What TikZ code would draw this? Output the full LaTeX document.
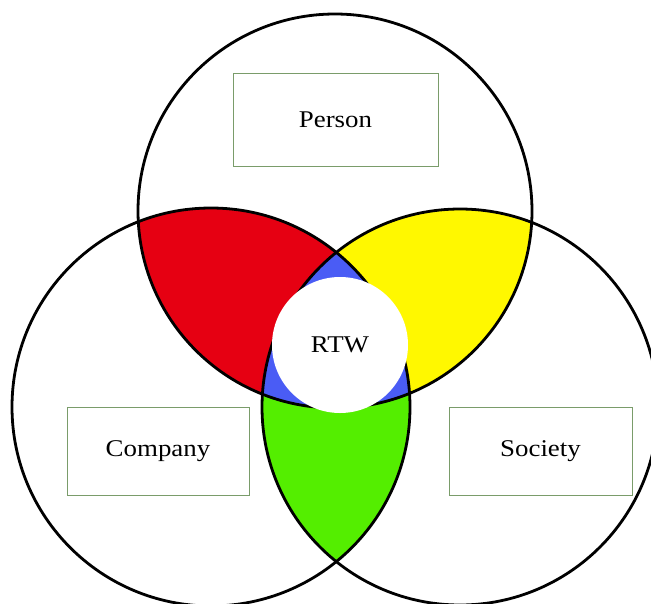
\documentclass[tikz,border=0pt]{standalone}
\usepackage{fontspec}
\setmainfont{Liberation Serif}[FakeStretch=1.12]
\definecolor{redfill}{RGB}{230,0,18}
\definecolor{yellowfill}{RGB}{255,248,0}
\definecolor{greenfill}{RGB}{84,238,0}
\definecolor{bluefill}{RGB}{74,92,245}
\definecolor{boxgreen}{RGB}{122,156,106}
\begin{document}
\begin{tikzpicture}[x=1pt,y=-1pt,
  ring/.style={draw=black,line width=2.8pt},
  labelbox/.style={draw=boxgreen,line width=1pt,inner sep=0pt,
    font=\fontsize{24}{28}\selectfont},
  hub/.style={circle,fill=white,inner sep=0pt,minimum size=136pt,
    font=\fontsize{24}{28}\selectfont}]
\useasboundingbox (0,0) rectangle (651,603);
\fill[white] (0,0) rectangle (651,603);

% circle centres
\coordinate (cT) at (335,211);
\coordinate (cL) at (211,407);
\coordinate (cR) at (460,407);
\def\circT{(cT) circle[radius=197pt]}
\def\circL{(cL) circle[radius=199pt]}
\def\circR{(cR) circle[radius=198pt]}

% pairwise overlaps
\begin{scope}
  \clip \circT;
  \fill[redfill] \circL;
  \fill[yellowfill] \circR;
\end{scope}
\begin{scope}
  \clip \circL;
  \fill[greenfill] \circR;
\end{scope}
% common core
\begin{scope}
  \clip \circT;
  \clip \circL;
  \fill[bluefill] \circR;
\end{scope}

% outlines
\draw[ring] \circT;
\draw[ring] \circL;
\draw[ring] \circR;

% centre disc
\node[hub] (rtw) at (340,345) {RTW};

% labels
\node[labelbox,minimum width=205pt,minimum height=93pt] (person) at (335.5,119.5) {Person};
\node[labelbox,minimum width=182pt,minimum height=88pt] (company) at (158,451) {Company};
\node[labelbox,minimum width=183pt,minimum height=88pt] (society) at (540.5,451) {Society};
\end{tikzpicture}
\end{document}
